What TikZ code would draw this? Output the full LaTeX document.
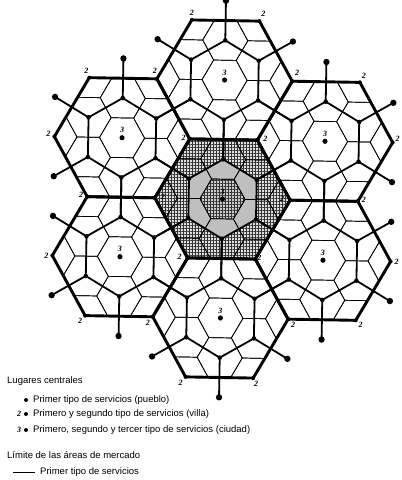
\documentclass[tikz,border=0pt]{standalone}
\usepackage{fontspec}
\setmainfont{Liberation Serif}
\setsansfont{Liberation Sans}
\usetikzlibrary{patterns.meta}
\begin{document}
\begin{tikzpicture}[x=1pt,y=-1pt,
  lvlone/.style={line width=0.7pt, line join=round},
  lvltwo/.style={line width=1.8pt, line join=round, line cap=round},
  lvlthree/.style={line width=2.9pt, line join=miter},
  num/.style={font=\fontsize{8}{8}\selectfont\bfseries\itshape, inner sep=0pt},
  legtext/.style={font=\sffamily\fontsize{9.5}{10}\selectfont, anchor=west, inner sep=0pt},
  hatchfill/.style={pattern={Hatch[distance=3pt,line width=0.4pt]}, pattern color=black!80}
]
\useasboundingbox (0,0) rectangle (402,480);
\fill[white] (0,0) rectangle (402,480);
\def\Ra{68.7}
\def\Aa{39.66}
\def\Rs{22.9}
\def\Dd{119}
\begin{scope}[shift={(222.5,199)}, rotate=-1, xscale=0.985]
  % shading of the central market area
  \fill[gray!25] (0:\Ra) -- (60:\Ra) -- (120:\Ra) -- (180:\Ra) -- (240:\Ra) -- (300:\Ra) -- cycle;
  \fill[hatchfill] (0:\Ra) -- (60:\Ra) -- (120:\Ra) -- (180:\Ra) -- (240:\Ra) -- (300:\Ra) -- cycle;
  \fill[gray!50] (30:\Aa) -- (90:\Aa) -- (150:\Aa) -- (210:\Aa) -- (270:\Aa) -- (330:\Aa) -- cycle;
  \fill[gray!40] (0:\Rs) -- (60:\Rs) -- (120:\Rs) -- (180:\Rs) -- (240:\Rs) -- (300:\Rs) -- cycle;
  \fill[hatchfill] (0:\Rs) -- (60:\Rs) -- (120:\Rs) -- (180:\Rs) -- (240:\Rs) -- (300:\Rs) -- cycle;
  % first-order market areas (clipped to the seven large hexagons)
  \begin{scope}
    \clip (0:\Ra) -- (60:\Ra) -- (120:\Ra) -- (180:\Ra) -- (240:\Ra) -- (300:\Ra) -- cycle
      \foreach \p in {30,90,...,330} { (\p:\Dd) ++(0:\Ra) -- ++(120:\Ra) -- ++(180:\Ra) -- ++(240:\Ra) -- ++(300:\Ra) -- ++(0:\Ra) -- cycle };
    \foreach \i in {-6,...,6} \foreach \j in {-9,...,9} {
      \draw[lvlone, shift={(30:{\i*\Aa})}, shift={(90:{\j*\Aa})}]
        (0:\Rs) -- (60:\Rs) -- (120:\Rs) -- (180:\Rs) -- (240:\Rs) -- (300:\Rs) -- cycle;
    }
  \end{scope}
  % second-order market areas
  \foreach \p/\d in {0/0,30/\Dd,90/\Dd,150/\Dd,210/\Dd,270/\Dd,330/\Dd} {
    \draw[lvltwo, shift={(\p:\d)}] (30:\Aa) -- (90:\Aa) -- (150:\Aa) -- (210:\Aa) -- (270:\Aa) -- (330:\Aa) -- cycle;
    \foreach \q in {30,90,...,330} {
      \draw[lvltwo, shift={(\p:\d)}] (\q:\Aa) -- (\q:{2*\Aa});
    }
  }
  % third-order market areas
  \foreach \p/\d in {0/0,30/\Dd,90/\Dd,150/\Dd,210/\Dd,270/\Dd,330/\Dd} {
    \draw[lvlthree, shift={(\p:\d)}] (0:\Ra) -- (60:\Ra) -- (120:\Ra) -- (180:\Ra) -- (240:\Ra) -- (300:\Ra) -- cycle;
    \foreach \q in {0,60,...,300} {
      \path[shift={(\p:\d)}] (\q:\Ra) coordinate (v\p a\q);
      \fill[shift={(\p:\d)}] (\q:\Ra) circle (2);
    }
    \foreach \q in {30,90,...,330} {
      \fill[shift={(\p:\d)}] (\q:\Aa) circle (2.3);
    }
    \path[shift={(\p:\d)}] (0,0) coordinate (c\p);
    \fill[shift={(\p:\d)}] (0,0) circle (2.6);
  }
  % first-order places outside the seven areas
  \foreach \p in {30,90,...,330} \foreach \q in {-60,0,60} {
    \fill[shift={(\p:\Dd)}] ({\p+\q}:{2*\Aa}) circle (3.2);
  }
\end{scope}
% third-order labels
\foreach \p in {0,30,90,150,210,270,330} {
  \node[num] (t\p) at (c\p) [yshift=7.5pt] {3};
}
% second-order labels
\foreach \v/\dx/\dy [count=\k] in {
  270a240/0/-7, 270a300/4/-7, 270a180/-2/-8, 270a0/5/-8,
  210a240/-3/-7, 210a180/-6/-3, 210a120/-6/-2, 150a180/-6/0,
  150a120/-5/5, 150a60/-5/6, 90a120/-5/6, 90a60/3/6, 90a0/5/6,
  30a60/5/5, 30a0/6/0, 30a300/6/-2, 330a0/5/-4, 330a300/4/-7,
  0a240/-6/-1, 0a300/8/-1, 0a180/8/-1, 0a0/-8/-1, 0a120/-8/-1, 0a60/4/-1} {
  \node[num] (s\k) at (v\v) [xshift=\dx pt, yshift=-\dy pt] {2};
}
% legend
\node[legtext] (lg1) at (7,381) {Lugares centrales};
\fill (26,400) circle (2);
\node[legtext] (lg2) at (33,400) {Primer tipo de servicios (pueblo)};
\node[num] (lgn2) at (19,414) {2};
\fill (26,414) circle (2);
\node[legtext] (lg3) at (33,414) {Primero y segundo tipo de servicios (villa)};
\node[num] (lgn3) at (19,430) {3};
\fill (26,430) circle (2);
\node[legtext] (lg4) at (33,430) {Primero, segundo y tercer tipo de servicios (ciudad)};
\node[legtext] (lg5) at (7,455) {Límite de las áreas de mercado};
\coordinate (ls) at (13,472);
\node[legtext] (lg6) at (40,472) {Primer tipo de servicios};
\draw[line width=0.8pt] (ls) -- ([xshift=-5pt]lg6.west);
\end{tikzpicture}
\end{document}
